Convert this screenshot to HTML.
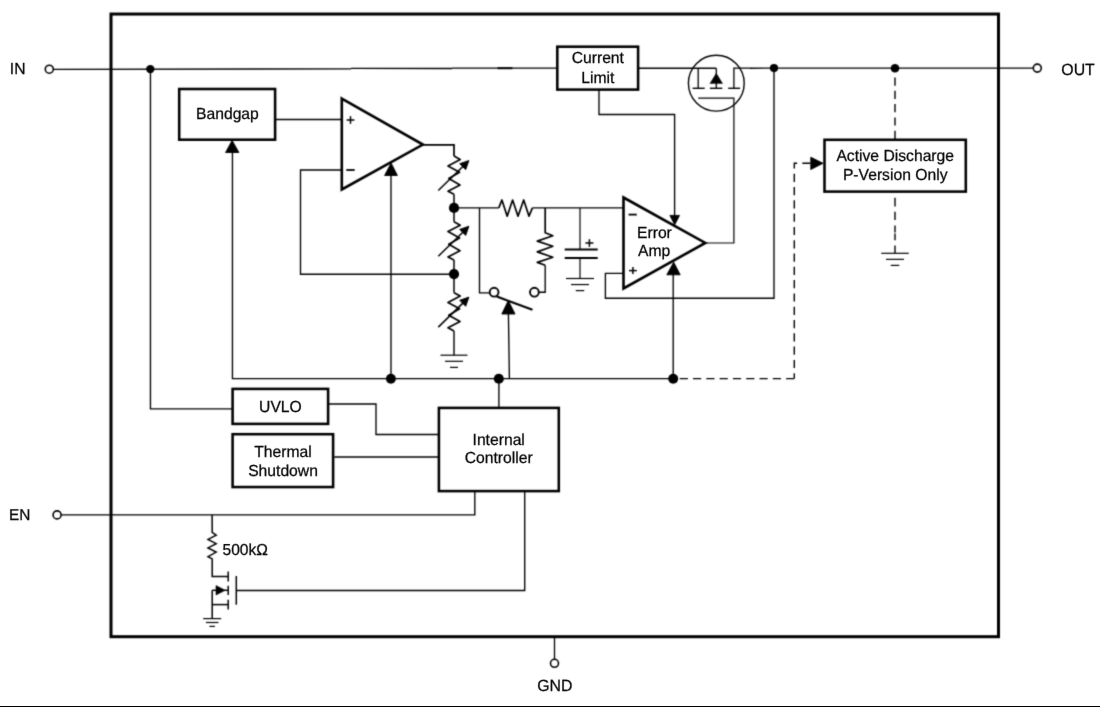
<!DOCTYPE html>
<html><head><meta charset="utf-8"><style>
html,body{margin:0;padding:0;background:#fff;width:1100px;height:707px;overflow:hidden}
svg{display:block}
text{font-family:"Liberation Sans",sans-serif;fill:#000;stroke:#000;stroke-width:0.25px;text-rendering:geometricPrecision}
</style></head><body>
<svg width="1100" height="707" viewBox="0 0 1100 707">
<defs><filter id="bl" x="0" y="0" width="1100" height="707" filterUnits="userSpaceOnUse" color-interpolation-filters="sRGB"><feConvolveMatrix order="3" kernelMatrix="1 4 1 4 16 4 1 4 1" divisor="36" edgeMode="duplicate"/></filter><filter id="tb" x="0" y="0" width="1100" height="707" filterUnits="userSpaceOnUse" color-interpolation-filters="sRGB"><feConvolveMatrix order="3" kernelMatrix="0 1 0 1 16 1 0 1 0" divisor="20" edgeMode="duplicate"/></filter></defs>
<g filter="url(#bl)">
<rect width="1100" height="707" fill="#fff"/>
<rect x="111.00" y="14.05" width="887.50" height="622.65" fill="none" stroke="#000" stroke-width="3.0"/>
<circle cx="49.30" cy="69.20" r="4.00" fill="none" stroke="#000" stroke-width="1.6"/>
<polyline points="53.30,69.30 351.00,68.80" fill="none" stroke="#000" stroke-width="1.35" />
<polyline points="351.00,68.35 452.00,68.45" fill="none" stroke="#000" stroke-width="1.35" />
<polyline points="452.00,68.10 557.00,68.10" fill="none" stroke="#000" stroke-width="1.35" />
<polyline points="497.50,68.20 512.40,68.20" fill="none" stroke="#000" stroke-width="2.0" />
<circle cx="150.30" cy="69.10" r="4.20" fill="#000"/>
<polyline points="150.45,69.00 150.45,408.90 232.00,408.90" fill="none" stroke="#000" stroke-width="1.35" />
<rect x="557.30" y="46.70" width="80.80" height="42.90" fill="none" stroke="#000" stroke-width="2.55"/>
<polyline points="639.00,68.20 716.30,68.20" fill="none" stroke="#000" stroke-width="1.35" />
<polyline points="716.30,68.20 716.30,88.30" fill="none" stroke="#000" stroke-width="1.3" />
<polyline points="698.20,68.20 698.20,88.30" fill="none" stroke="#000" stroke-width="1.3" />
<polyline points="733.90,88.30 733.90,68.20 750.00,68.20" fill="none" stroke="#000" stroke-width="1.3" />
<polyline points="750.00,68.20 1033.20,68.10" fill="none" stroke="#000" stroke-width="1.35" />
<circle cx="716.30" cy="83.20" r="27.90" fill="none" stroke="#000" stroke-width="1.4"/>
<polygon points="716.3,73.3 709.9,83.6 722.6,83.6" fill="#000" stroke="#000" stroke-width="0.4"/>
<polyline points="692.60,88.30 704.70,88.30" fill="none" stroke="#000" stroke-width="1.4" />
<polyline points="709.90,88.30 722.30,88.30" fill="none" stroke="#000" stroke-width="1.4" />
<polyline points="728.20,88.30 740.10,88.30" fill="none" stroke="#000" stroke-width="1.4" />
<polyline points="698.20,98.20 733.90,98.20 733.90,243.00 705.00,243.00" fill="none" stroke="#000" stroke-width="1.2" />
<polyline points="599.00,90.00 599.00,114.50 674.60,114.50 674.60,216.00" fill="none" stroke="#000" stroke-width="1.35" />
<polygon points="674.70,224.80 669.90,215.40 679.50,215.40" fill="#000" stroke="#000" stroke-width="0.9" stroke-linejoin="round"/>
<circle cx="774.00" cy="68.10" r="4.10" fill="#000"/>
<polyline points="774.00,68.30 774.00,298.20 605.40,298.20 605.40,273.30 623.00,273.30" fill="none" stroke="#000" stroke-width="1.35" />
<circle cx="895.00" cy="68.20" r="4.30" fill="#000"/>
<polyline points="895.00,77.50 895.00,139.00" fill="none" stroke="#000" stroke-width="1.4" stroke-dasharray="8.2,5.1" />
<polyline points="895.00,197.70 895.00,206.60" fill="none" stroke="#000" stroke-width="1.4" />
<polyline points="895.00,211.70 895.00,220.00" fill="none" stroke="#000" stroke-width="1.4" />
<polyline points="895.00,225.50 895.00,232.60" fill="none" stroke="#000" stroke-width="1.4" />
<polyline points="895.00,233.40 895.00,240.30" fill="none" stroke="#000" stroke-width="1.4" />
<polyline points="895.00,245.40 895.00,253.30" fill="none" stroke="#000" stroke-width="1.4" />
<polyline points="881.25,253.30 908.75,253.30" fill="none" stroke="#000" stroke-width="1.2" />
<polyline points="886.00,259.35 904.00,259.35" fill="none" stroke="#000" stroke-width="1.2" />
<polyline points="890.75,265.40 899.25,265.40" fill="none" stroke="#000" stroke-width="1.2" />
<circle cx="1037.30" cy="68.10" r="4.00" fill="none" stroke="#000" stroke-width="1.6"/>
<rect x="824.50" y="139.80" width="141.30" height="51.80" fill="none" stroke="#000" stroke-width="2.55"/>
<polyline points="679.70,378.60 794.30,378.60" fill="none" stroke="#000" stroke-width="1.4" stroke-dasharray="8.2,5.1" />
<polyline points="794.30,378.60 794.30,163.30 812.00,163.30" fill="none" stroke="#000" stroke-width="1.4" stroke-dasharray="8.2,5.1" stroke-dashoffset="2.8"/>
<polygon points="823.00,163.30 810.80,157.20 810.80,169.50" fill="#000" stroke="#000" stroke-width="0.9" stroke-linejoin="round"/>
<rect x="179.20" y="89.00" width="95.90" height="50.70" fill="none" stroke="#000" stroke-width="2.55"/>
<polyline points="275.90,119.45 341.80,119.45" fill="none" stroke="#000" stroke-width="1.35" />
<polygon points="232.10,140.40 225.60,152.50 238.90,152.50" fill="#000" stroke="#000" stroke-width="0.9" stroke-linejoin="round"/>
<polyline points="232.45,152.00 232.45,378.60 673.00,378.60" fill="none" stroke="#000" stroke-width="1.35" />
<polygon points="341.8,98.6 422.9,144.6 341.8,189.5" fill="none" stroke="#000" stroke-width="2.6" stroke-linejoin="miter"/>
<polyline points="346.60,120.00 354.40,120.00" fill="none" stroke="#000" stroke-width="1.5" />
<polyline points="350.50,116.20 350.50,123.80" fill="none" stroke="#000" stroke-width="1.5" />
<polyline points="346.30,170.00 354.70,170.00" fill="none" stroke="#000" stroke-width="1.8" />
<polyline points="341.80,170.00 300.50,170.00 300.50,274.20 454.00,274.20" fill="none" stroke="#000" stroke-width="1.35" />
<polygon points="391.10,163.10 384.60,175.50 397.40,175.50" fill="#000" stroke="#000" stroke-width="0.9" stroke-linejoin="round"/>
<polyline points="391.00,175.00 391.00,378.60" fill="none" stroke="#000" stroke-width="1.35" />
<circle cx="390.90" cy="378.80" r="4.95" fill="#000"/>
<polyline points="422.00,144.85 454.00,144.85 454.00,156.10" fill="none" stroke="#000" stroke-width="1.7" />
<polyline points="454.00,156.10 460.20,159.50 448.00,165.90 459.60,172.20 448.80,178.60 460.00,185.00 448.00,191.20 454.00,194.30" fill="none" stroke="#000" stroke-width="1.7" stroke-linejoin="round"/>
<polyline points="438.30,190.50 464.90,164.50" fill="none" stroke="#000" stroke-width="1.5" />
<polygon points="468.90,160.50 459.70,163.70 465.70,169.70" fill="#000" stroke="#000" stroke-width="0.9" stroke-linejoin="round"/>
<polyline points="454.00,194.30 454.00,221.80" fill="none" stroke="#000" stroke-width="1.5" />
<circle cx="454.00" cy="207.90" r="5.10" fill="#000"/>
<polyline points="454.00,221.80 460.20,225.20 448.00,231.60 459.60,237.90 448.80,244.30 460.00,250.70 448.00,256.90 454.00,260.00" fill="none" stroke="#000" stroke-width="1.7" stroke-linejoin="round"/>
<polyline points="438.30,256.20 464.90,230.20" fill="none" stroke="#000" stroke-width="1.5" />
<polygon points="468.90,226.20 459.70,229.40 465.70,235.40" fill="#000" stroke="#000" stroke-width="0.9" stroke-linejoin="round"/>
<polyline points="454.00,260.00 454.00,292.70" fill="none" stroke="#000" stroke-width="1.5" />
<circle cx="454.00" cy="274.05" r="5.10" fill="#000"/>
<polyline points="454.00,292.70 460.20,296.10 448.00,302.50 459.60,308.80 448.80,315.20 460.00,321.60 448.00,327.80 454.00,330.90" fill="none" stroke="#000" stroke-width="1.7" stroke-linejoin="round"/>
<polyline points="438.30,327.10 464.90,301.10" fill="none" stroke="#000" stroke-width="1.5" />
<polygon points="468.90,297.10 459.70,300.30 465.70,306.30" fill="#000" stroke="#000" stroke-width="0.9" stroke-linejoin="round"/>
<polyline points="454.00,330.90 454.00,355.20" fill="none" stroke="#000" stroke-width="1.4" />
<polyline points="440.50,355.20 467.50,355.20" fill="none" stroke="#000" stroke-width="1.2" />
<polyline points="445.00,361.30 463.00,361.30" fill="none" stroke="#000" stroke-width="1.2" />
<polyline points="450.00,367.40 458.00,367.40" fill="none" stroke="#000" stroke-width="1.2" />
<polyline points="454.00,207.90 498.80,207.90" fill="none" stroke="#000" stroke-width="1.35" />
<polyline points="498.80,207.90 501.90,200.00 507.20,216.20 512.60,200.00 518.00,216.20 523.70,200.00 529.00,216.20 532.40,207.90" fill="none" stroke="#000" stroke-width="1.7" stroke-linejoin="round"/>
<polyline points="532.40,207.90 623.50,207.90" fill="none" stroke="#000" stroke-width="1.35" />
<polyline points="479.50,207.90 479.50,292.80 489.60,292.80" fill="none" stroke="#000" stroke-width="1.35" />
<circle cx="494.10" cy="292.20" r="4.40" fill="none" stroke="#000" stroke-width="1.9"/>
<circle cx="534.40" cy="292.20" r="4.40" fill="none" stroke="#000" stroke-width="1.9"/>
<polyline points="538.80,292.20 545.20,292.20 545.20,265.20" fill="none" stroke="#000" stroke-width="1.35" />
<polyline points="545.20,207.90 545.20,232.70 552.80,235.80 537.30,241.10 552.80,246.30 537.30,251.90 552.80,257.30 537.30,262.40 545.20,265.20" fill="none" stroke="#000" stroke-width="1.7" stroke-linejoin="round"/>
<polyline points="496.80,296.50 532.50,309.80" fill="none" stroke="#000" stroke-width="2.1" />
<polygon points="508.30,300.60 501.80,314.00 515.00,314.00" fill="#000" stroke="#000" stroke-width="0.9" stroke-linejoin="round"/>
<polyline points="508.40,313.00 509.40,378.60" fill="none" stroke="#000" stroke-width="1.35" />
<polyline points="580.00,207.90 580.00,249.40" fill="none" stroke="#000" stroke-width="1.2" />
<polyline points="564.70,249.40 597.70,249.40" fill="none" stroke="#000" stroke-width="2" />
<polyline points="564.70,257.90 597.70,257.90" fill="none" stroke="#000" stroke-width="2" />
<polyline points="580.00,257.90 580.00,278.50" fill="none" stroke="#000" stroke-width="1.2" />
<polyline points="566.00,278.50 594.00,278.50" fill="none" stroke="#000" stroke-width="1.2" />
<polyline points="571.00,284.55 589.00,284.55" fill="none" stroke="#000" stroke-width="1.2" />
<polyline points="575.75,290.60 584.25,290.60" fill="none" stroke="#000" stroke-width="1.2" />
<polyline points="585.40,243.00 593.40,243.00" fill="none" stroke="#000" stroke-width="1.5" />
<polyline points="589.40,239.20 589.40,246.80" fill="none" stroke="#000" stroke-width="1.5" />
<polygon points="623.5,197.5 705.3,242.9 623.5,288.5" fill="none" stroke="#000" stroke-width="2.6"/>
<polyline points="628.60,214.60 636.80,214.60" fill="none" stroke="#000" stroke-width="1.8" />
<polyline points="629.00,270.60 636.80,270.60" fill="none" stroke="#000" stroke-width="1.5" />
<polyline points="632.90,267.10 632.90,274.10" fill="none" stroke="#000" stroke-width="1.5" />
<polygon points="673.70,262.20 666.80,274.80 680.20,274.80" fill="#000" stroke="#000" stroke-width="0.9" stroke-linejoin="round"/>
<polyline points="673.20,274.00 673.20,378.60" fill="none" stroke="#000" stroke-width="1.35" />
<circle cx="673.20" cy="378.75" r="5.00" fill="#000"/>
<circle cx="498.80" cy="378.80" r="5.05" fill="#000"/>
<polyline points="498.90,378.60 498.90,408.00" fill="none" stroke="#000" stroke-width="1.35" />
<rect x="232.60" y="388.90" width="95.50" height="35.00" fill="none" stroke="#000" stroke-width="2.55"/>
<polyline points="329.00,404.00 376.00,404.00 376.00,434.50 438.20,434.50" fill="none" stroke="#000" stroke-width="1.35" />
<rect x="232.60" y="434.20" width="100.50" height="52.85" fill="none" stroke="#000" stroke-width="2.55"/>
<polyline points="334.20,457.00 438.20,457.00" fill="none" stroke="#000" stroke-width="1.35" />
<rect x="438.90" y="407.90" width="119.90" height="83.20" fill="none" stroke="#000" stroke-width="2.55"/>
<polyline points="474.80,491.00 474.80,514.90 61.10,514.90" fill="none" stroke="#000" stroke-width="1.35" />
<polyline points="524.70,491.00 524.70,590.50 236.30,590.50" fill="none" stroke="#000" stroke-width="1.35" />
<circle cx="57.10" cy="514.90" r="4.00" fill="none" stroke="#000" stroke-width="1.6"/>
<polyline points="212.10,514.90 212.20,532.40 216.20,535.10 208.00,539.40 216.20,543.70 208.00,547.90 216.20,552.10 208.00,556.70 212.20,558.90 212.20,576.50 228.20,576.50" fill="none" stroke="#000" stroke-width="1.5" />
<polyline points="228.20,571.40 228.20,581.60" fill="none" stroke="#000" stroke-width="1.5" />
<polyline points="228.20,585.70 228.20,594.90" fill="none" stroke="#000" stroke-width="1.5" />
<polyline points="228.20,599.80 228.20,609.60" fill="none" stroke="#000" stroke-width="1.5" />
<polyline points="236.30,576.00 236.30,604.70" fill="none" stroke="#000" stroke-width="1.5" />
<polygon points="225.2,590.3 216.0,585.6 216.0,595.0" fill="#000" stroke="#000" stroke-width="0.6" stroke-linejoin="round"/>
<polyline points="224.00,590.30 228.20,590.30" fill="none" stroke="#000" stroke-width="1.4" />
<polyline points="212.20,590.30 216.00,590.30" fill="none" stroke="#000" stroke-width="1.5" />
<polyline points="212.20,590.30 212.20,618.60" fill="none" stroke="#000" stroke-width="1.5" />
<polyline points="212.20,604.60 228.20,604.60" fill="none" stroke="#000" stroke-width="1.5" />
<polyline points="203.20,618.60 221.20,618.60" fill="none" stroke="#000" stroke-width="1.2" />
<polyline points="205.95,622.50 218.45,622.50" fill="none" stroke="#000" stroke-width="1.2" />
<polyline points="209.45,626.40 214.95,626.40" fill="none" stroke="#000" stroke-width="1.2" />
<polyline points="554.50,637.00 554.50,659.00" fill="none" stroke="#000" stroke-width="1.3" />
<circle cx="554.50" cy="663.30" r="4.00" fill="none" stroke="#000" stroke-width="1.6"/>
</g>
<rect x="0" y="706" width="1100" height="1" fill="#000"/>
<g class="t" filter="url(#tb)">
<text transform="translate(9.80,74.00) scale(0.98,1.0)" font-size="16.00" text-anchor="start">IN</text>
<text transform="translate(597.80,63.10) scale(0.98,1.0)" font-size="16.00" text-anchor="middle">Current</text>
<text transform="translate(597.80,82.70) scale(0.98,1.0)" font-size="16.00" text-anchor="middle">Limit</text>
<text transform="translate(1061.30,74.90) scale(0.98,1.0)" font-size="16.21" text-anchor="start">OUT</text>
<text transform="translate(895.20,161.00) scale(0.98,1.0)" font-size="16.00" text-anchor="middle">Active Discharge</text>
<text transform="translate(895.20,180.10) scale(0.98,1.0)" font-size="16.00" text-anchor="middle">P-Version Only</text>
<text transform="translate(227.40,118.80) scale(0.98,1.0)" font-size="16.00" text-anchor="middle">Bandgap</text>
<text transform="translate(654.40,238.00) scale(0.98,1.0)" font-size="16.00" text-anchor="middle">Error</text>
<text transform="translate(654.10,255.60) scale(0.98,1.0)" font-size="16.00" text-anchor="middle">Amp</text>
<text transform="translate(280.40,412.00) scale(0.98,1.0)" font-size="16.00" text-anchor="middle">UVLO</text>
<text transform="translate(283.00,456.60) scale(0.98,1.0)" font-size="16.00" text-anchor="middle">Thermal</text>
<text transform="translate(283.00,475.80) scale(0.98,1.0)" font-size="16.00" text-anchor="middle">Shutdown</text>
<text transform="translate(498.70,445.20) scale(0.98,1.0)" font-size="16.00" text-anchor="middle">Internal</text>
<text transform="translate(498.70,463.30) scale(0.98,1.0)" font-size="16.00" text-anchor="middle">Controller</text>
<text transform="translate(9.00,520.30) scale(0.98,1.0)" font-size="15.69" text-anchor="start">EN</text>
<text transform="translate(222.50,554.80) scale(0.98,1.0)" font-size="15.90" text-anchor="start">500kΩ</text>
<text transform="translate(554.80,691.20) scale(0.98,1.0)" font-size="16.21" text-anchor="middle">GND</text>
</g>
</svg>
</body></html>
